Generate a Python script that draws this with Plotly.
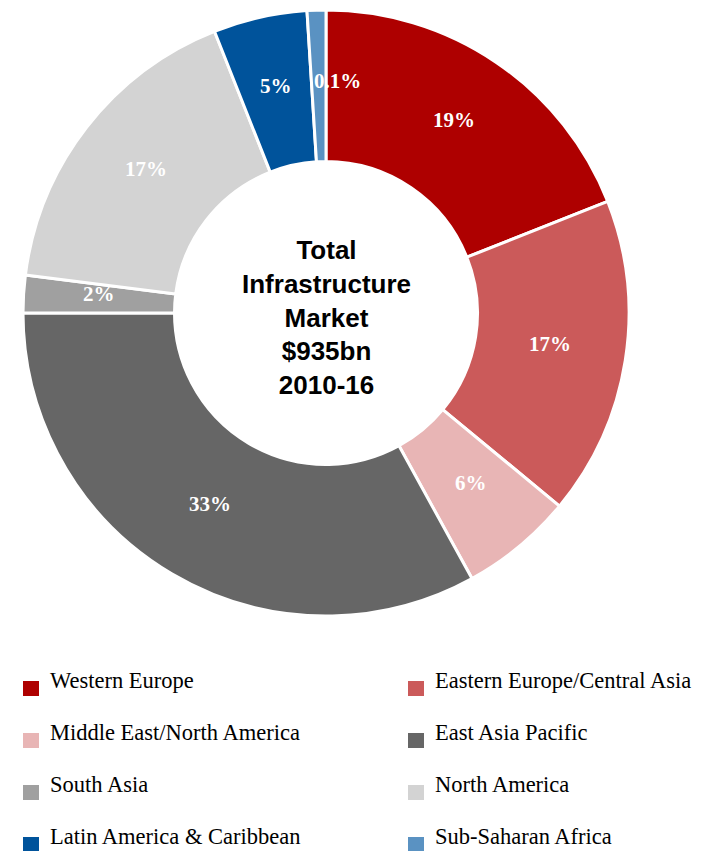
import math
import plotly.graph_objects as go

# Regionen und Anteile am Infrastrukturmarkt
regions = ["Western Europe", "Eastern Europe/Central Asia", "Middle East/North America",
           "East Asia Pacific", "South Asia", "North America",
           "Latin America & Caribbean", "Sub-Saharan Africa"]
shares = [19, 17, 6, 33, 2, 17, 5, 1]
share_labels = ["19%", "17%", "6%", "33%", "2%", "17%", "5%", "0.1%"]
colors = ["#AE0000", "#CB5A5A", "#E8B5B5", "#666666", "#A0A0A0", "#D3D3D3", "#00539B", "#5A92C2"]

# Seite hat 8px Rand -> Abbildung etwas kleiner, Koordinaten um 8px verschieben
OFF = 8
W, H = 702 - OFF, 851 - OFF
cx, cy, r = 326 - OFF, 313 - OFF, 303
hole = 0.5
label_font = dict(family="Liberation Serif", size=21, color="white", weight="bold")


def px(x):
    return x / W


def py(y):
    return 1 - y / H


fig = go.Figure()
fig.add_trace(go.Pie(
    labels=regions, values=shares, textinfo="none",
    sort=False, direction="clockwise", rotation=0, hole=hole,
    marker=dict(colors=colors, line=dict(color="white", width=3)),
    showlegend=False,
    domain=dict(x=[px(cx - r), px(cx + r)], y=[py(cy + r), py(cy - r)]),
    hoverinfo="label+percent",
))

# Prozentwerte in der Mitte jedes Rings (wie in Excel, auch bei schmalen Segmenten)
total = sum(shares)
cum = 0
rm = r * (1 + hole) / 2
for i, (v, lab) in enumerate(zip(shares, share_labels)):
    mid = (cum + v / 2) / total * 2 * math.pi
    cum += v
    fig.add_annotation(text=lab, x=px(cx + rm * math.sin(mid)), y=py(cy - rm * math.cos(mid)),
                       xref="paper", yref="paper", xanchor="center", yanchor="middle",
                       showarrow=False, font=label_font,
                       xshift=19 if i == len(shares) - 1 else 0, yshift=5)

fig.add_annotation(text="<b>Total<br>Infrastructure<br>Market<br>$935bn<br>2010-16</b>",
                   x=px(cx), y=py(317 - OFF), xref="paper", yref="paper",
                   xanchor="center", yanchor="middle", showarrow=False,
                   font=dict(family="Liberation Sans", size=26, color="black"))

# Legende in zwei Spalten unter dem Ring
for i, (name, col) in enumerate(zip(regions, colors)):
    row, c = divmod(i, 2)
    mx = 23 - OFF + c * 385
    my = 688 - OFF + row * 52
    fig.add_shape(type="rect", xref="paper", yref="paper",
                  x0=px(mx), x1=px(mx + 16), y0=py(my - 7), y1=py(my + 8),
                  fillcolor=col, line=dict(width=0))
    fig.add_annotation(text=name, x=px(mx + 25), y=py(my - 8), xref="paper", yref="paper",
                       xanchor="left", yanchor="middle", showarrow=False,
                       font=dict(family="Liberation Serif", size=22.5, color="black"))

fig.update_layout(
    width=W, height=H, margin=dict(l=0, r=0, t=0, b=0),
    paper_bgcolor="white", plot_bgcolor="white",
    showlegend=False,
)

fig.write_html("out.html")
